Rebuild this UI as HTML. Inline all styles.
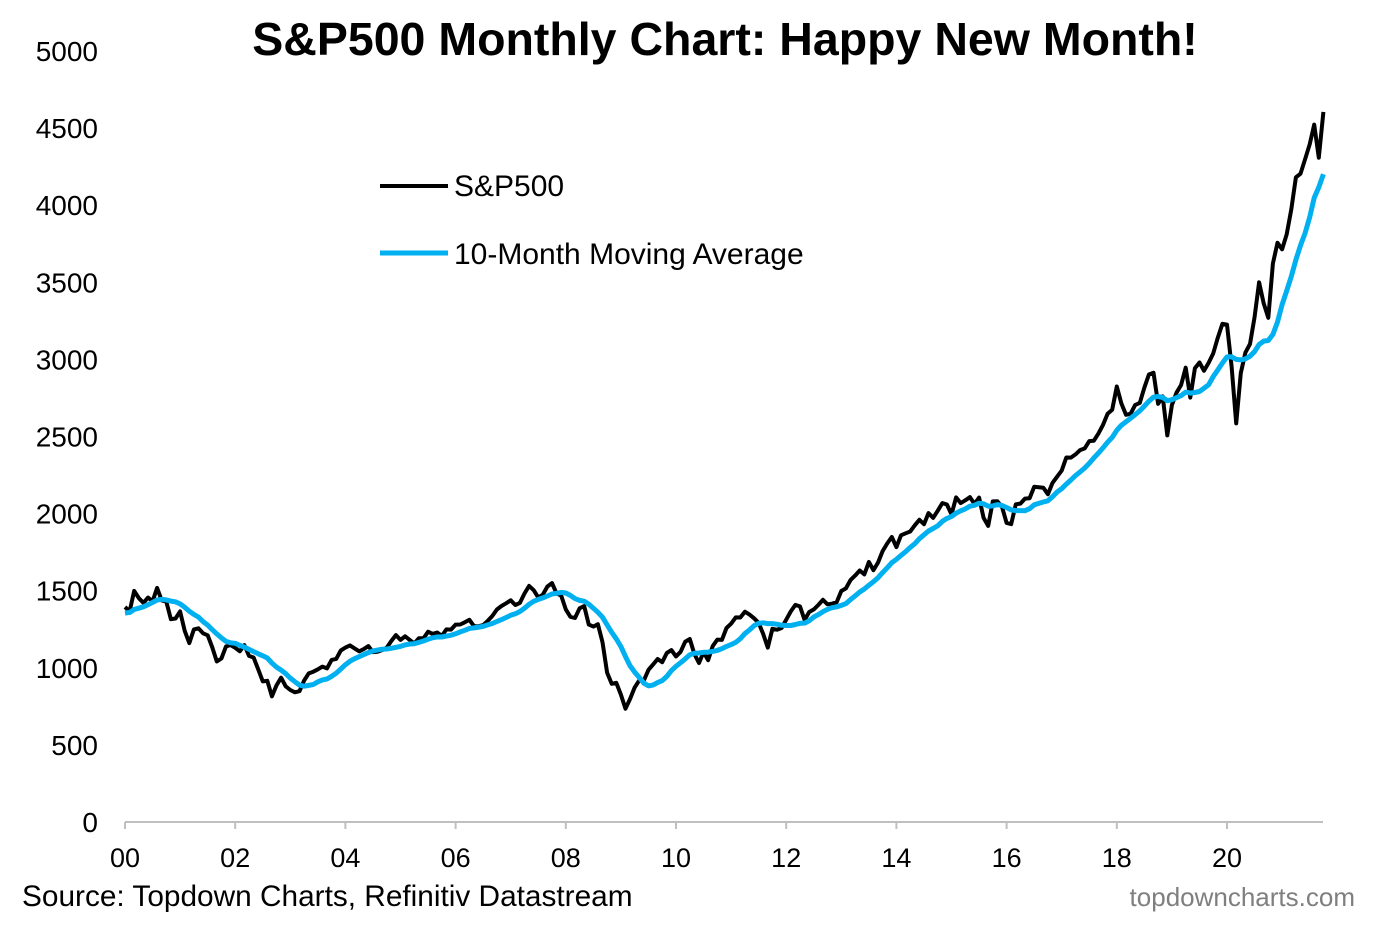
<!DOCTYPE html>
<html><head><meta charset="utf-8"><style>
body{margin:0;background:#fff;width:1380px;height:926px;overflow:hidden;font-family:"Liberation Sans",Arial,sans-serif}
svg text{font-family:"Liberation Sans",Arial,sans-serif}
</style></head><body>
<svg id="chart" width="1380" height="926" xmlns="http://www.w3.org/2000/svg">
<text x="725" y="55" text-anchor="middle" font-size="46.5" font-weight="bold">S&amp;P500 Monthly Chart: Happy New Month!</text>
<g id="yaxis"></g>
<g id="xaxis"></g>
<g id="series"></g>
<g>
<line x1="380" y1="186" x2="448" y2="186" stroke="#000" stroke-width="4"/>
<text x="454" y="196" font-size="30">S&amp;P500</text>
<line x1="380" y1="253" x2="448" y2="253" stroke="#00b0f0" stroke-width="5"/>
<text x="454" y="264" font-size="30">10-Month Moving Average</text>
</g>
<text x="22" y="906" font-size="29.8">Source: Topdown Charts, Refinitiv Datastream</text>
<text x="1355" y="906" font-size="26" fill="#7f7f7f" text-anchor="end">topdowncharts.com</text>
</svg>
<script>
const prior1999 = [1286,1335,1302,1373,1329,1320,1283,1363,1389,1469];
const spx = [
1394,1366,1499,1452,1421,1455,1431,1518,1437,1429,1315,1320,
1366,1240,1160,1249,1256,1224,1211,1134,1041,1060,1139,1148,
1130,1107,1147,1077,1067,990,912,916,815,886,936,880,
856,841,848,917,964,975,990,1008,996,1051,1058,1112,
1131,1145,1126,1107,1121,1141,1102,1104,1115,1130,1174,1212,
1181,1204,1181,1157,1192,1191,1234,1220,1229,1207,1249,1248,
1280,1281,1295,1311,1270,1270,1277,1304,1336,1378,1401,1418,
1438,1407,1421,1482,1531,1503,1455,1474,1527,1549,1481,1468,
1379,1331,1323,1386,1400,1280,1267,1283,1166,969,896,903,
826,735,798,873,919,919,987,1021,1057,1036,1096,1115,
1074,1104,1169,1187,1089,1031,1102,1049,1141,1183,1181,1258,
1286,1327,1326,1364,1345,1321,1292,1219,1131,1253,1247,1258,
1312,1366,1408,1398,1310,1362,1379,1407,1441,1412,1416,1426,
1498,1515,1569,1598,1631,1606,1686,1633,1682,1757,1806,1848,
1783,1859,1872,1884,1924,1960,1931,2003,1972,2018,2068,2059,
1995,2105,2068,2086,2107,2063,2104,1972,1920,2079,2080,2044,
1940,1932,2060,2065,2097,2099,2174,2171,2168,2126,2199,2239,
2279,2364,2363,2384,2412,2423,2470,2472,2519,2575,2648,2674,
2824,2714,2641,2648,2705,2718,2816,2902,2914,2712,2760,2507,
2704,2784,2834,2946,2752,2942,2980,2926,2977,3038,3141,3231,
3226,2954,2585,2912,3044,3100,3271,3500,3363,3270,3622,3756,
3714,3811,3973,4181,4204,4298,4395,4523,4308,4605];
const yTicks = [0,500,1000,1500,2000,2500,3000,3500,4000,4500,5000];
const xTickLabels = ["00","02","04","06","08","10","12","14","16","18","20"];

const NS="http://www.w3.org/2000/svg";
const X0=125, PX_PER_MONTH=(1227-125)/240, Y0=822, PX_PER_UNIT=(822-51)/5000;
const xs=i=>X0+i*PX_PER_MONTH;
const ys=v=>Y0-v*PX_PER_UNIT;
function mk(tag,attrs,parent){const e=document.createElementNS(NS,tag);for(const k in attrs)e.setAttribute(k,attrs[k]);parent.appendChild(e);return e;}

const ya=document.getElementById('yaxis');
yTicks.forEach(v=>{
  const t=mk('text',{x:98,y:ys(v)+10,'text-anchor':'end','font-size':28},ya);
  
  
  t.textContent=v;
});
const xa=document.getElementById('xaxis');
const ax=mk('line',{x1:X0,y1:Y0,x2:1323,y2:Y0,stroke:'#bfbfbf','stroke-width':2},xa);


xTickLabels.forEach((l,k)=>{
  const x=xs(k*24);
  const tk=mk('line',{x1:x,y1:Y0,x2:x,y2:Y0+7,stroke:'#bfbfbf','stroke-width':2},xa);
  
  
  const t=mk('text',{x:x,y:867,'text-anchor':'middle','font-size':27},xa);
  
  
  t.textContent=l;
});

const all=prior1999.concat(spx);
const ma=spx.map((v,i)=>{let s=0;for(let j=0;j<10;j++)s+=all[i+10-j];return s/10;});
const ser=document.getElementById('series');
const pts=a=>a.map((v,i)=>xs(i).toFixed(1)+','+ys(v).toFixed(1)).join(' ');
const lp=mk('polyline',{points:pts(spx),fill:'none',stroke:'#000','stroke-width':4,'stroke-linejoin':'round'},ser);


const lm=mk('polyline',{points:pts(ma),fill:'none',stroke:'#00b0f0','stroke-width':5,'stroke-linejoin':'round'},ser);


</script>
</body></html>
